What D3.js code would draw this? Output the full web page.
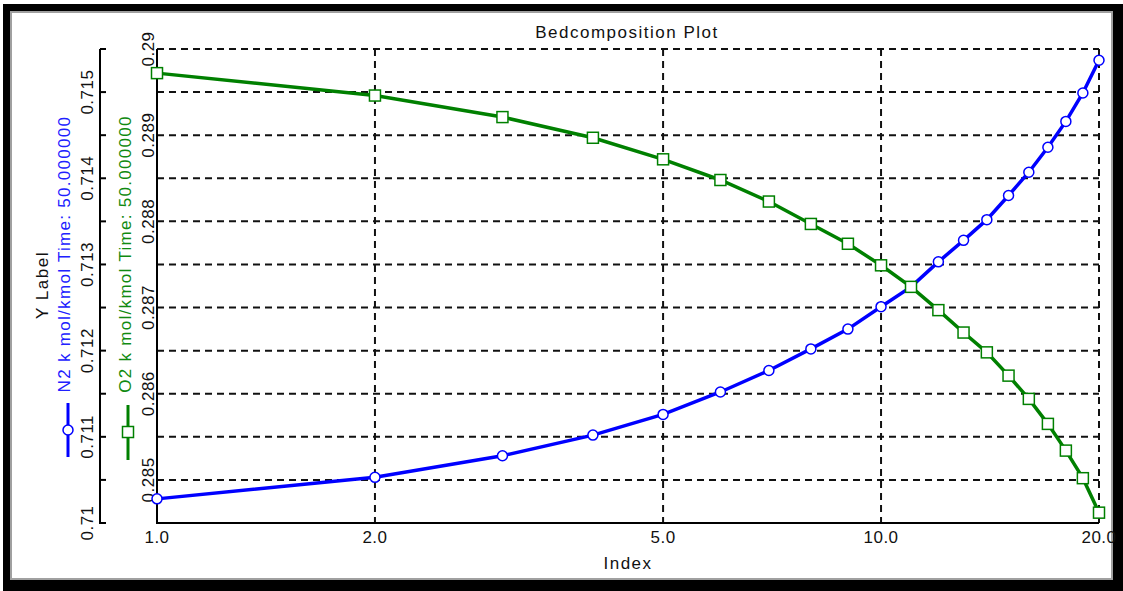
<!DOCTYPE html>
<html>
<head>
<meta charset="utf-8">
<script src="https://cdn.jsdelivr.net/npm/d3@7"></script>
<style>
  html, body { margin: 0; padding: 0; background: #ffffff; }
  svg { display: block; }
  text { font-family: "Liberation Sans", Arial, sans-serif; }
</style>
</head>
<body>
<svg id="chart" width="1123" height="591"></svg>
<script>
// ---------- data ----------
const indexValues = [1,2,3,4,5,6,7,8,9,10,11,12,13,14,15,16,17,18,19,20];
const n2Values = [0.71028,0.71053,0.71078,0.71102,0.71126,0.71152,0.71177,0.71202,0.71225,0.71251,
                  0.71274,0.71303,0.71328,0.71352,0.71380,0.71407,0.71436,0.71466,0.71499,0.71537];
const o2Values = [0.28972,0.28946,0.28921,0.28897,0.28872,0.28848,0.28823,0.28797,0.28774,0.28749,
                  0.28724,0.28697,0.28671,0.28648,0.28621,0.28594,0.28565,0.28534,0.28502,0.28462];
const xTickValues = [1,2,5,10,20];
const xTickLabels = ["1.0","2.0","5.0","10.0","20.0"];
const n2TickValues = [0.710,0.711,0.712,0.713,0.714,0.715];
const n2TickLabels = ["0.71","0.711","0.712","0.713","0.714","0.715"];
const o2TickValues = [0.285,0.286,0.287,0.288,0.289,0.290];
const o2TickLabels = ["0.285","0.286","0.287","0.288","0.289","0.29"];
const n2Domain = [0.710, 0.7155];
const o2Domain = [0.2845, 0.290];
const minorStep = 0.0005;
const titleText = "Bedcomposition Plot";
const xTitle = "Index";
const yTitle = "Y Label";
const n2Name = "N2 k mol/kmol Time: 50.000000";
const o2Name = "O2 k mol/kmol Time: 50.000000";

// ---------- layout ----------
const svg = d3.select("#chart");
const plotLeft = 157, plotRight = 1099, plotTop = 49, plotBottom = 523;
const n2AxisX = 100;
const blue = "#0000ff", green = "#008000";

// frame
svg.append("rect").attr("x",3).attr("y",4).attr("width",1120).attr("height",587).attr("fill","#000");
svg.append("rect").attr("x",10).attr("y",11).attr("width",1103).attr("height",569).attr("fill","#a0a0a0");
svg.append("rect").attr("x",12).attr("y",13).attr("width",1099).attr("height",565).attr("fill","#fff");

const x = d3.scaleLog().domain([1,20]).range([plotLeft,plotRight]);
const yN2 = d3.scaleLinear().domain(n2Domain).range([plotBottom,plotTop]);
const yO2 = d3.scaleLinear().domain(o2Domain).range([plotBottom,plotTop]);

// grid
const gridVals = d3.range(0, 11).map(i => +(o2TickValues[0] + i*minorStep).toFixed(5));
const grid = svg.append("g").attr("stroke","#111").attr("stroke-width",2).attr("stroke-dasharray","7,5");
grid.selectAll("line.h").data(gridVals).join("line").attr("class","h")
  .attr("x1",plotLeft).attr("x2",plotRight).attr("y1",d=>yO2(d)).attr("y2",d=>yO2(d));
grid.selectAll("line.v").data(xTickValues.slice(1)).join("line").attr("class","v")
  .attr("x1",d=>x(d)).attr("x2",d=>x(d)).attr("y1",plotTop).attr("y2",plotBottom);

// axes lines
svg.append("line").attr("x1",plotLeft).attr("x2",plotRight).attr("y1",plotBottom).attr("y2",plotBottom)
  .attr("stroke","#000").attr("stroke-width",2);
svg.append("line").attr("x1",plotLeft).attr("x2",plotLeft).attr("y1",plotTop).attr("y2",plotBottom+1)
  .attr("stroke","#000").attr("stroke-width",2);

// N2 axis (outer left)
const n2Minor = d3.range(0, 12).map(i => +(n2Domain[0] + i*minorStep).toFixed(5));
svg.append("line").attr("x1",n2AxisX).attr("x2",n2AxisX).attr("y1",plotTop).attr("y2",plotBottom+1)
  .attr("stroke","#000").attr("stroke-width",2);
svg.append("g").selectAll("line").data(n2Minor).join("line")
  .attr("x1",n2AxisX).attr("x2",n2AxisX+6).attr("y1",d=>yN2(d)).attr("y2",d=>yN2(d))
  .attr("stroke","#000").attr("stroke-width",2);

const fontTick = 17;
svg.append("g").selectAll("text").data(n2TickValues).join("text")
  .attr("transform",d=>`translate(93,${yN2(d)}) rotate(-90)`)
  .attr("text-anchor","middle").attr("font-size",fontTick).attr("letter-spacing","0.5px")
  .attr("fill","#111").text((d,i)=>n2TickLabels[i]);

svg.append("g").selectAll("text").data(o2TickValues).join("text")
  .attr("transform",d=>`translate(154,${yO2(d)}) rotate(-90)`)
  .attr("text-anchor","middle").attr("font-size",fontTick).attr("letter-spacing","0.5px")
  .attr("fill","#111").text((d,i)=>o2TickLabels[i]);

svg.append("g").selectAll("text").data(xTickValues).join("text")
  .attr("x",d=>x(d)).attr("y",543)
  .attr("text-anchor","middle").attr("font-size",fontTick).attr("letter-spacing","0.5px")
  .attr("fill","#111").text((d,i)=>xTickLabels[i]);

// titles
svg.append("text").attr("x",627).attr("y",38).attr("text-anchor","middle")
  .attr("font-size",17).attr("letter-spacing","1.5px").attr("fill","#111").text(titleText);
svg.append("text").attr("x",628).attr("y",569).attr("text-anchor","middle")
  .attr("font-size",17).attr("letter-spacing","1.5px").attr("fill","#111").text(xTitle);
svg.append("text").attr("transform","translate(48,285) rotate(-90)").attr("text-anchor","middle")
  .attr("font-size",17).attr("letter-spacing","1.5px").attr("fill","#111").text(yTitle);
svg.append("text").attr("transform","translate(70,254) rotate(-90)").attr("text-anchor","middle")
  .attr("font-size",17).attr("letter-spacing","1.3px").attr("fill","#2020ff").text(n2Name);
svg.append("text").attr("transform","translate(131,254) rotate(-90)").attr("text-anchor","middle")
  .attr("font-size",17).attr("letter-spacing","1.3px").attr("fill","#108a10").text(o2Name);

// legend symbols
svg.append("line").attr("x1",68).attr("x2",68).attr("y1",403).attr("y2",457).attr("stroke",blue).attr("stroke-width",3);
svg.append("circle").attr("cx",68).attr("cy",430).attr("r",5).attr("fill","#fff").attr("stroke",blue).attr("stroke-width",1.5);
svg.append("line").attr("x1",128).attr("x2",128).attr("y1",405).attr("y2",460).attr("stroke",green).attr("stroke-width",3);
svg.append("rect").attr("x",122.5).attr("y",426.5).attr("width",11).attr("height",11).attr("fill","#fff").attr("stroke",green).attr("stroke-width",1.5);

// series
const n2Data = indexValues.map((d,i)=>({x:d, y:n2Values[i]}));
const o2Data = indexValues.map((d,i)=>({x:d, y:o2Values[i]}));

svg.append("path").datum(o2Data)
  .attr("d", d3.line().x(d=>x(d.x)).y(d=>yO2(d.y)))
  .attr("fill","none").attr("stroke",green).attr("stroke-width",3.5);
svg.append("path").datum(n2Data)
  .attr("d", d3.line().x(d=>x(d.x)).y(d=>yN2(d.y)))
  .attr("fill","none").attr("stroke",blue).attr("stroke-width",3.5);

svg.append("g").selectAll("circle").data(n2Data).join("circle")
  .attr("cx",d=>x(d.x)).attr("cy",d=>yN2(d.y)).attr("r",5)
  .attr("fill","#fff").attr("stroke",blue).attr("stroke-width",1.5);
svg.append("g").selectAll("rect").data(o2Data).join("rect")
  .attr("x",d=>x(d.x)-5.5).attr("y",d=>yO2(d.y)-5.5).attr("width",11).attr("height",11)
  .attr("fill","#fff").attr("stroke",green).attr("stroke-width",1.5);
</script>
</body>
</html>
